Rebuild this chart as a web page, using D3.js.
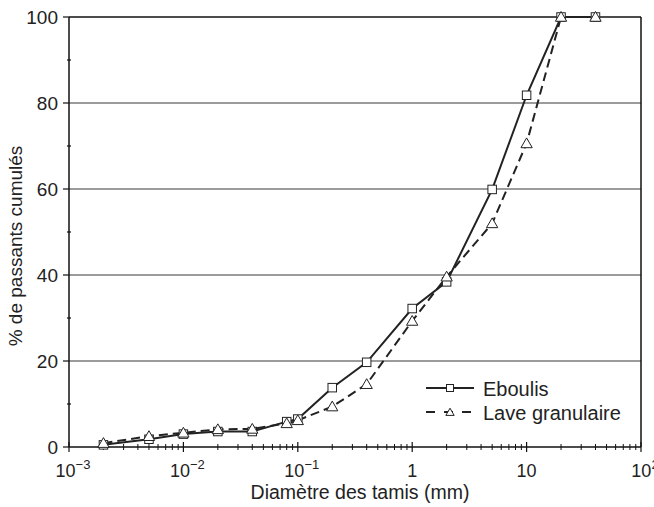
<!DOCTYPE html>
<html><head><meta charset="utf-8">
<script src="https://cdn.jsdelivr.net/npm/d3@7"></script>
<style>body{margin:0;background:#fff}svg{display:block}text{font-family:"Liberation Sans",Arial,sans-serif;fill:#222}</style>
</head><body><svg id="c" width="654" height="507"></svg>
<script>
const diameters = [0.002,0.005,0.01,0.02,0.04,0.08,0.1,0.2,0.4,1,2,5,10,20,40];
const eboulis = [0.5,1.8,3.0,3.6,3.6,5.9,6.5,13.8,19.7,32.2,38.4,59.9,81.8,100,100];
const lave = [0.9,2.5,3.3,4.1,4.2,5.5,6.2,9.4,14.6,29.3,39.6,52.0,70.6,100,100];
const yTicks = [0,20,40,60,80,100];
const xMajor = [1e-3,1e-2,1e-1,1,10,100];
const xLabels = [["10","−3"],["10","−2"],["10","−1"],["1",""],["10",""],["10","2"]];

const W=654,H=507,m={l:69,r:13,t:17,b:60};
const svg=d3.select("#c");
const x=d3.scaleLog().domain([1e-3,100]).range([m.l,W-m.r]);
const y=d3.scaleLinear().domain([0,100]).range([H-m.b,m.t]);

// gridlines
svg.append("g").selectAll("line").data(yTicks.filter(v=>v>0&&v<100)).join("line")
 .attr("x1",m.l).attr("x2",W-m.r).attr("y1",d=>y(d)).attr("y2",d=>y(d))
 .attr("stroke","#7a7a7a").attr("stroke-width",1.5);

// frame
svg.append("line").attr("x1",m.l).attr("x2",W-m.r).attr("y1",m.t).attr("y2",m.t).attr("stroke","#111").attr("stroke-width",1.5);
svg.append("line").attr("x1",W-m.r).attr("x2",W-m.r).attr("y1",m.t).attr("y2",H-m.b).attr("stroke","#111").attr("stroke-width",1.5);

// y axis
const yAx=svg.append("g");
yAx.append("line").attr("x1",m.l).attr("x2",m.l).attr("y1",m.t).attr("y2",H-m.b).attr("stroke","#111").attr("stroke-width",1.5);
yAx.selectAll(".maj").data(yTicks).join("line").attr("x1",m.l-6).attr("x2",m.l).attr("y1",d=>y(d)).attr("y2",d=>y(d)).attr("stroke","#111").attr("stroke-width",1.2);
yAx.selectAll(".min").data(d3.range(10,100,20)).join("line").attr("x1",m.l-2).attr("x2",m.l+2).attr("y1",d=>y(d)).attr("y2",d=>y(d)).attr("stroke","#111").attr("stroke-width",1.2);
yAx.selectAll("text").data(yTicks).join("text").attr("x",m.l-11).attr("y",d=>y(d)+7).attr("text-anchor","end").attr("font-size",19).text(d=>d);

// x axis
const xAx=svg.append("g");
xAx.append("line").attr("x1",m.l).attr("x2",W-m.r).attr("y1",H-m.b).attr("y2",H-m.b).attr("stroke","#111").attr("stroke-width",1.5);
const minors=[];
for(let e=-3;e<2;e++) for(let k=2;k<10;k++) minors.push(k*Math.pow(10,e));
xAx.selectAll(".mn").data(minors).join("line").attr("x1",d=>x(d)).attr("x2",d=>x(d)).attr("y1",H-m.b-3).attr("y2",H-m.b+3).attr("stroke","#111").attr("stroke-width",1);
xAx.selectAll(".mj").data(xMajor).join("line").attr("x1",d=>x(d)).attr("x2",d=>x(d)).attr("y1",H-m.b-5).attr("y2",H-m.b+5).attr("stroke","#111").attr("stroke-width",1.2);
const lab=xAx.selectAll("text").data(xMajor).join("text").attr("x",d=>x(d)).attr("y",H-m.b+30).attr("text-anchor","middle").attr("font-size",18);
lab.each(function(d,i){
  const t=d3.select(this), L=xLabels[i];
  t.append("tspan").text(L[0]);
  if(L[1]) t.append("tspan").attr("dy",-8).attr("font-size",13).text(L[1]);
});
lab.attr("dx",(d,i)=>xLabels[i][1]?4:0);

// titles
svg.append("text").attr("x",(m.l+W-m.r)/2+5).attr("y",H-8).attr("text-anchor","middle").attr("font-size",19.5).text("Diamètre des tamis (mm)");
svg.append("text").attr("transform",`translate(22,${(m.t+H-m.b)/2+14}) rotate(-90)`).attr("text-anchor","middle").attr("font-size",19).text("% de passants cumulés");

// lines
const line=d3.line().x(d=>x(d[0])).y(d=>y(d[1]));
const eb=diameters.map((d,i)=>[d,eboulis[i]]);
const lv=diameters.map((d,i)=>[d,lave[i]]);
svg.append("path").attr("d",line(lv)).attr("fill","none").attr("stroke","#222").attr("stroke-width",2).attr("stroke-dasharray","9,5");
svg.append("path").attr("d",line(eb)).attr("fill","none").attr("stroke","#222").attr("stroke-width",2);

const tri=d3.symbol().type(d3.symbolTriangle).size(55);
function sq(g,cx,cy,s){g.append("rect").attr("x",cx-s/2).attr("y",cy-s/2).attr("width",s).attr("height",s).attr("fill","#fff").attr("stroke","#222").attr("stroke-width",1);}
function tr(g,cx,cy){g.append("path").attr("d",tri()).attr("transform",`translate(${cx},${cy+1})`).attr("fill","#fff").attr("stroke","#222").attr("stroke-width",1);}
const mk=svg.append("g");
eb.forEach(d=>sq(mk,x(d[0]),y(d[1]),8.5));
lv.forEach(d=>tr(mk,x(d[0]),y(d[1])));

// legend
const lg=svg.append("g");
lg.append("line").attr("x1",426).attr("x2",474).attr("y1",388).attr("y2",388).attr("stroke","#222").attr("stroke-width",2);
sq(lg,450,388,7);
lg.append("line").attr("x1",426).attr("x2",474).attr("y1",412).attr("y2",412).attr("stroke","#222").attr("stroke-width",2).attr("stroke-dasharray","9,9");
lg.append("path").attr("d",d3.symbol().type(d3.symbolTriangle).size(30)()).attr("transform","translate(450,413)").attr("fill","#fff").attr("stroke","#222");
lg.append("text").attr("x",483).attr("y",396).attr("font-size",20).text("Eboulis");
lg.append("text").attr("x",483).attr("y",420).attr("font-size",20).text("Lave granulaire");
</script></body></html>
